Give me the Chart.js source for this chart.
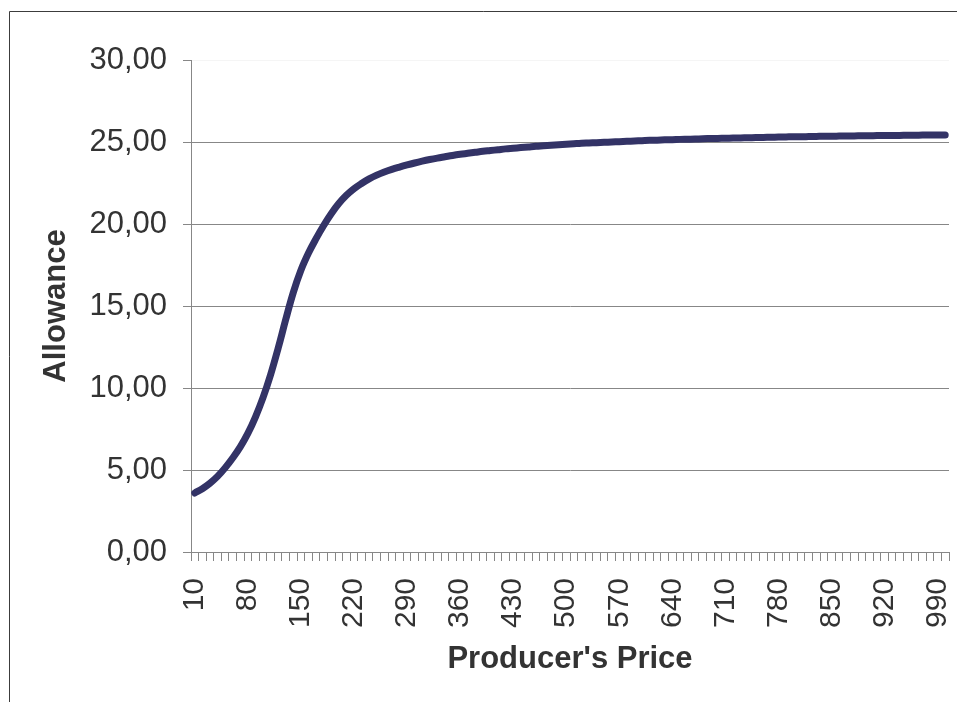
<!DOCTYPE html>
<html>
<head>
<meta charset="utf-8">
<title>Allowance vs Producer's Price</title>
<script src="https://cdn.jsdelivr.net/npm/chart.js@4.4.1/dist/chart.umd.min.js"></script>
<style>
  html, body { margin: 0; padding: 0; background: #ffffff; }
  #wrap { position: relative; width: 957px; height: 702px; }
  canvas { display: block; }
</style>
</head>
<body>
<div id="wrap"><canvas id="chart" width="957" height="702"></canvas></div>
<script>
// Producer's price categories (10 .. 1000)
const prices = [
  10, 20, 30, 40, 50, 60, 70, 80, 90, 100,
  110, 120, 130, 140, 150, 160, 170, 180, 190, 200,
  210, 220, 230, 240, 250, 260, 270, 280, 290, 300,
  310, 320, 330, 340, 350, 360, 370, 380, 390, 400,
  410, 420, 430, 440, 450, 460, 470, 480, 490, 500,
  510, 520, 530, 540, 550, 560, 570, 580, 590, 600,
  610, 620, 630, 640, 650, 660, 670, 680, 690, 700,
  710, 720, 730, 740, 750, 760, 770, 780, 790, 800,
  810, 820, 830, 840, 850, 860, 870, 880, 890, 900,
  910, 920, 930, 940, 950, 960, 970, 980, 990, 1000
];

// Allowance for each producer's price
const allowance = [
  3.60, 3.86, 4.19, 4.61, 5.13, 5.73, 6.41, 7.23, 8.23, 9.41,
  10.81, 12.43, 14.18, 15.83, 17.18, 18.23, 19.11, 19.91, 20.63, 21.25,
  21.75, 22.15, 22.47, 22.75, 22.98, 23.17, 23.33, 23.47, 23.60, 23.72,
  23.83, 23.93, 24.02, 24.10, 24.18, 24.25, 24.31, 24.37, 24.43, 24.48,
  24.53, 24.58, 24.62, 24.66, 24.70, 24.74, 24.77, 24.80, 24.83, 24.86,
  24.89, 24.92, 24.94, 24.96, 24.98, 25.00, 25.02, 25.04, 25.06, 25.08,
  25.10, 25.11, 25.13, 25.14, 25.16, 25.17, 25.18, 25.20, 25.21, 25.22,
  25.23, 25.24, 25.25, 25.26, 25.27, 25.28, 25.29, 25.30, 25.31, 25.32,
  25.32, 25.33, 25.34, 25.35, 25.35, 25.36, 25.37, 25.37, 25.38, 25.38,
  25.39, 25.39, 25.40, 25.40, 25.41, 25.41, 25.42, 25.42, 25.43, 25.43
];

// Category labels shown under the x axis
const xTickLabels = ['10', '80', '150', '220', '290', '360', '430', '500',
  '570', '640', '710', '780', '850', '920', '990'];

// Value axis range and step
const yMin = 0;
const yMax = 30;
const yStep = 5;

const FONT = "'Liberation Sans', Arial, Helvetica, sans-serif";
const TEXT = '#333333';
const GRID = '#878787';

// White background plus the outer frame of the chart object
const framePlugin = {
  id: 'frame',
  beforeDraw(chart) {
    const c = chart.ctx;
    c.save();
    c.fillStyle = '#ffffff';
    c.fillRect(0, 0, chart.width, chart.height);
    c.strokeStyle = '#3c3c3c';
    c.lineWidth = 1;
    c.beginPath();
    c.moveTo(9.5, chart.height);
    c.lineTo(9.5, 11.5);
    c.lineTo(chart.width, 11.5);
    c.stroke();
    c.restore();
  }
};

new Chart(document.getElementById('chart'), {
  type: 'line',
  data: {
    labels: prices.map(String),
    datasets: [{
      label: 'Allowance',
      data: allowance,
      borderColor: '#333366',
      borderWidth: 7,
      borderCapStyle: 'round',
      borderJoinStyle: 'round',
      tension: 0.4,
      pointRadius: 0,
      pointHoverRadius: 0,
      fill: false
    }]
  },
  options: {
    responsive: false,
    animation: false,
    events: [],
    layout: { padding: { top: 60, right: 8, bottom: 0, left: 0 } },
    plugins: {
      legend: { display: false },
      tooltip: { enabled: false },
      title: { display: false }
    },
    scales: {
      x: {
        type: 'category',
        offset: true,
        grid: {
          offset: true,
          drawOnChartArea: false,
          drawTicks: true,
          tickLength: 9,
          color: GRID,
          tickColor: GRID
        },
        border: { display: true, color: GRID, width: 1 },
        ticks: {
          autoSkip: false,
          minRotation: 90,
          maxRotation: 90,
          padding: 17,
          color: TEXT,
          font: { family: FONT, size: 30 },
          callback: function (value) {
            const lbl = this.getLabelForValue(value);
            return xTickLabels.includes(lbl) ? lbl : '';
          }
        },
        title: {
          display: true,
          text: "Producer's Price",
          color: TEXT,
          font: { family: FONT, size: 31, weight: 'bold' },
          padding: { top: 0, bottom: 24 }
        },
        afterFit(scale) {
          scale.height = 150;
          scale.paddingLeft = 0;
          scale.paddingRight = 0;
        }
      },
      y: {
        min: yMin,
        max: yMax,
        ticks: {
          stepSize: yStep,
          padding: 16,
          color: TEXT,
          font: { family: FONT, size: 31 },
          callback: (v) => Number(v).toFixed(2).replace('.', ',')
        },
        grid: {
          color: (ctx) => (ctx.tick && ctx.tick.value === yMax) ? 'rgba(0,0,0,0.04)' : GRID,
          tickColor: GRID,
          tickLength: 8,
          lineWidth: 1
        },
        border: { display: true, color: GRID, width: 1 },
        title: {
          display: true,
          text: 'Allowance',
          color: TEXT,
          font: { family: FONT, size: 31, weight: 'bold' },
          padding: { top: 38, bottom: 0 }
        },
        afterFit(scale) {
          scale.width = 191;
          scale.paddingTop = 0;
          scale.paddingBottom = 0;
        }
      }
    }
  },
  plugins: [framePlugin]
});
</script>
</body>
</html>
